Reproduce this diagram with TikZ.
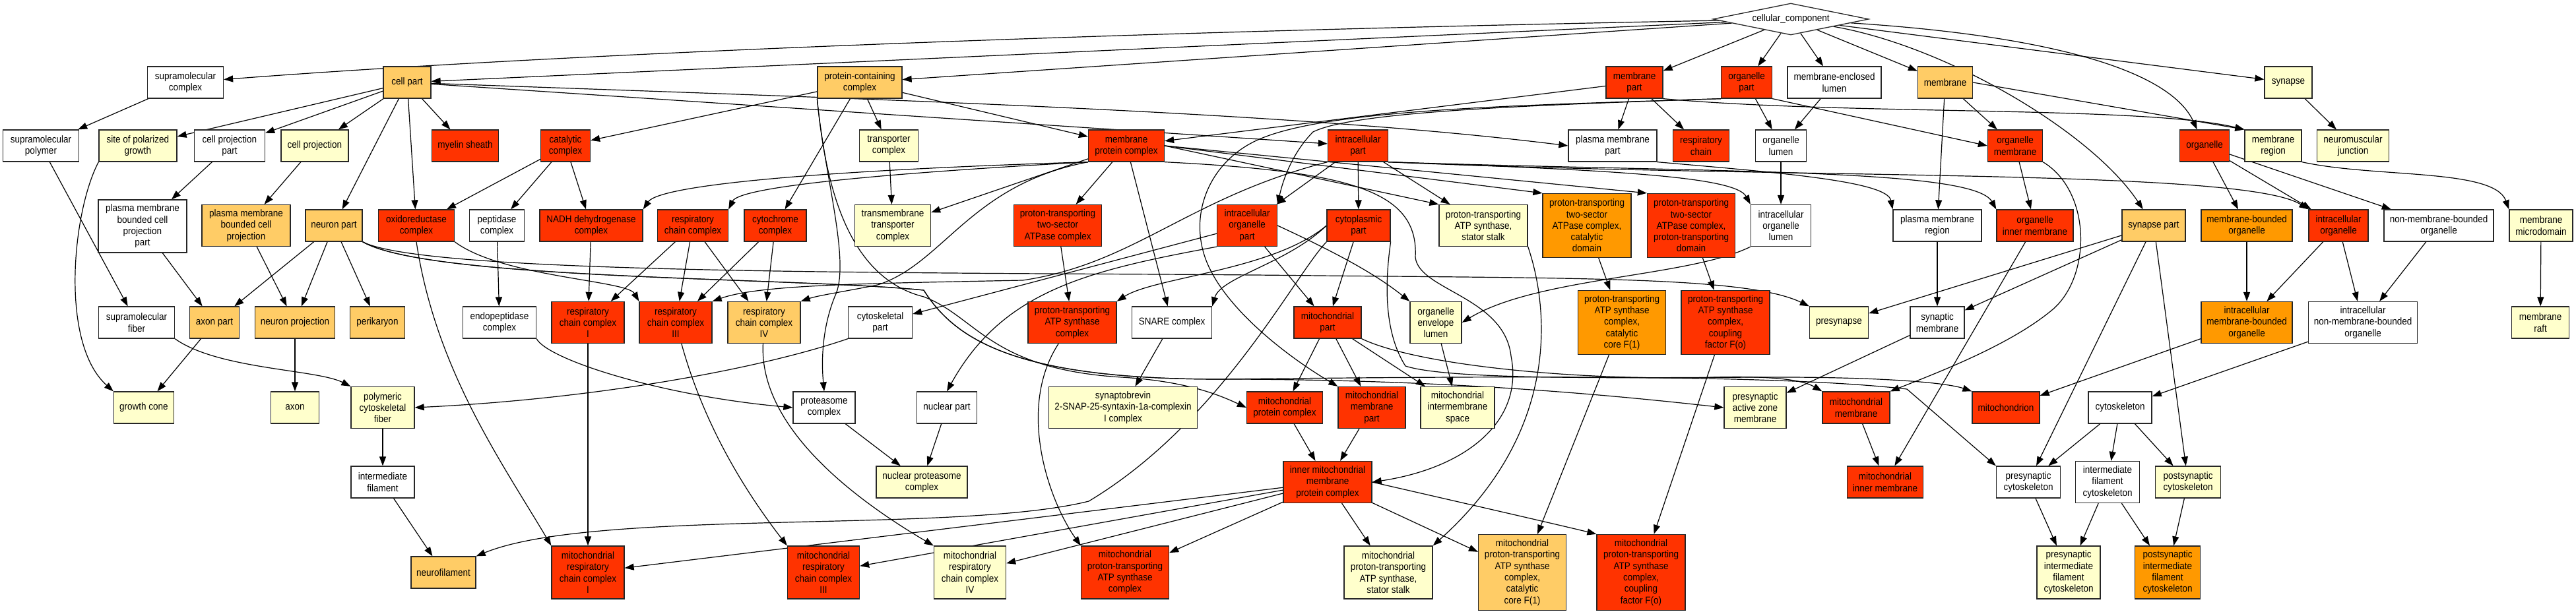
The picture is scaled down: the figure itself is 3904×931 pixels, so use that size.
\documentclass[tikz,border=0pt]{standalone}
\usepackage{fontspec}
\newfontfamily\gofont{Liberation Sans}[FakeStretch=0.9]
\usetikzlibrary{arrows.meta,shapes.geometric,backgrounds}
\definecolor{cRed}{HTML}{FF3300}
\definecolor{cOr}{HTML}{FF9900}
\definecolor{cLo}{HTML}{FFCC66}
\definecolor{cYe}{HTML}{FFFFCC}
\tikzset{
  nd/.style={draw=black!85, line width=1.3pt, rectangle, align=center, inner sep=1pt, text=black,
    font={\gofont\fontsize{15}{17.3}\selectfont}},
  ar/.style={-{Triangle[length=14pt,width=10pt]}, line width=1.2pt, draw=black}
}
\newcommand\gonode[7]{\node[nd,fill=#6,minimum width=#4pt,minimum height=#5pt] (#1) at (#2,#3) {#7};}
\begin{document}
\begin{tikzpicture}[x=1pt,y=-1pt]
\useasboundingbox (0,0) rectangle (3904,931);
% top
\node[diamond, aspect=4.9, draw=black!85, line width=1.3pt, fill=white, inner sep=0pt,
  minimum width=236pt, minimum height=48pt, font={\gofont\fontsize{15}{17.3}\selectfont}] (cc) at (2714,29) {cellular\_component};
\gonode{supcx}{281}{125}{115}{48}{white}{supramolecular\\complex}
\gonode{cellpart}{617}{125}{72}{48}{cLo}{cell part}
\gonode{protcont}{1303}{125}{128}{48}{cLo}{protein-containing\\complex}
\gonode{membpart}{2477}{125}{86}{48}{cRed}{membrane\\part}
\gonode{orgpart}{2647}{125}{77}{48}{cRed}{organelle\\part}
\gonode{melumen}{2780}{125}{142}{48}{white}{membrane-enclosed\\lumen}
\gonode{membrane}{2948}{125}{83}{48}{cLo}{membrane}
\gonode{synapse}{3468}{125}{72}{48}{cYe}{synapse}
% row B
\gonode{suppoly}{62}{221}{115}{48}{white}{supramolecular\\polymer}
\gonode{polgrowth}{209}{221}{118}{48}{cYe}{site of polarized\\growth}
\gonode{cpp}{348}{221}{107}{48}{white}{cell projection\\part}
\gonode{cp}{477}{221}{102}{48}{cYe}{cell projection}
\gonode{myelin}{705}{221}{101}{48}{cRed}{myelin sheath}
\gonode{catcx}{857}{221}{75}{48}{cRed}{catalytic\\complex}
\gonode{transpcx}{1347}{221}{89}{48}{cYe}{transporter\\complex}
\gonode{mpc}{1707}{221}{115}{48}{cRed}{membrane\\protein complex}
\gonode{icpart}{2058}{221}{91}{48}{cRed}{intracellular\\part}
\gonode{pmpart}{2444}{221}{134}{48}{white}{plasma membrane\\part}
\gonode{respchain}{2578}{221}{85}{48}{cRed}{respiratory\\chain}
\gonode{orglumen}{2699}{221}{77}{48}{white}{organelle\\lumen}
\gonode{orgmemb}{3054}{221}{83}{48}{cRed}{organelle\\membrane}
\gonode{organelle}{3341}{221}{75}{48}{cRed}{organelle}
\gonode{membregion}{3445}{221}{86}{48}{cYe}{membrane\\region}
\gonode{nmj}{3566}{221}{109}{48}{cYe}{neuromuscular\\junction}
% row C
\gonode{pmbcpp}{216}{343}{134}{80}{white}{plasma membrane\\bounded cell\\projection\\part}
\gonode{pmbcp}{373}{342}{134}{63}{cLo}{plasma membrane\\bounded cell\\projection}
\gonode{neuronpart}{506}{342}{86}{48}{cLo}{neuron part}
\gonode{oxcx}{631}{342}{115}{48}{cRed}{oxidoreductase\\complex}
\gonode{peptcx}{753}{342}{83}{48}{white}{peptidase\\complex}
\gonode{nadh}{896}{342}{156}{48}{cRed}{NADH dehydrogenase\\complex}
\gonode{rcc}{1050}{342}{107}{48}{cRed}{respiratory\\chain complex}
\gonode{cytcx}{1175}{342}{94}{48}{cRed}{cytochrome\\complex}
\gonode{tmtcx}{1353}{342}{115}{63}{cYe}{transmembrane\\transporter\\complex}
\gonode{pttsa}{1603}{342}{133}{63}{cRed}{proton-transporting\\two-sector\\ATPase complex}
\gonode{iop}{1890}{342}{91}{63}{cRed}{intracellular\\organelle\\part}
\gonode{cytopart}{2059}{342}{96}{48}{cRed}{cytoplasmic\\part}
\gonode{stalk}{2248}{342}{134}{63}{cYe}{proton-transporting\\ATP synthase,\\stator stalk}
\gonode{catdom}{2405}{342}{134}{97}{cOr}{proton-transporting\\two-sector\\ATPase complex,\\catalytic\\domain}
\gonode{ptdom}{2563}{342}{133}{97}{cRed}{proton-transporting\\two-sector\\ATPase complex,\\proton-transporting\\domain}
\gonode{iolumen}{2699}{342}{91}{63}{white}{intracellular\\organelle\\lumen}
\gonode{pmregion}{2936}{342}{134}{48}{white}{plasma membrane\\region}
\gonode{orginner}{3084}{342}{116}{48}{cRed}{organelle\\inner membrane}
\gonode{synpart}{3264}{342}{96}{48}{cLo}{synapse part}
\gonode{mbo}{3405}{342}{138}{48}{cOr}{membrane-bounded\\organelle}
\gonode{icorg}{3544}{342}{90}{48}{cRed}{intracellular\\organelle}
\gonode{nmbo}{3696}{342}{166}{48}{white}{non-membrane-bounded\\organelle}
\gonode{mmicro}{3851}{342}{96}{48}{cYe}{membrane\\microdomain}
% row D
\gonode{supfiber}{207}{489}{115}{48}{white}{supramolecular\\fiber}
\gonode{axonpart}{325}{489}{75}{48}{cLo}{axon part}
\gonode{neuronproj}{447}{489}{121}{48}{cLo}{neuron projection}
\gonode{perikaryon}{572}{489}{83}{48}{cLo}{perikaryon}
\gonode{endopept}{757}{489}{111}{48}{white}{endopeptidase\\complex}
\gonode{rcc1}{891}{489}{110}{63}{cRed}{respiratory\\chain complex\\I}
\gonode{rcc3}{1024}{489}{110}{63}{cRed}{respiratory\\chain complex\\III}
\gonode{rcc4}{1158}{489}{110}{63}{cLo}{respiratory\\chain complex\\IV}
\gonode{cytoskpart}{1334}{489}{97}{48}{white}{cytoskeletal\\part}
\gonode{ptatp}{1625}{489}{134}{63}{cRed}{proton-transporting\\ATP synthase\\complex}
\gonode{snare}{1776}{489}{121}{48}{white}{SNARE complex}
\gonode{mitopart}{2012}{489}{102}{48}{cRed}{mitochondrial\\part}
\gonode{oel}{2176}{489}{78}{63}{cYe}{organelle\\envelope\\lumen}
\gonode{f1}{2458}{489}{133}{97}{cOr}{proton-transporting\\ATP synthase\\complex,\\catalytic\\core F(1)}
\gonode{fo}{2615}{489}{134}{97}{cRed}{proton-transporting\\ATP synthase\\complex,\\coupling\\factor F(o)}
\gonode{presynapse}{2787}{489}{89}{48}{cYe}{presynapse}
\gonode{synmemb}{2936}{489}{82}{48}{white}{synaptic\\membrane}
\gonode{imbo}{3405}{489}{138}{63}{cOr}{intracellular\\membrane-bounded\\organelle}
\gonode{inmbo}{3581}{489}{165}{63}{white}{intracellular\\non-membrane-bounded\\organelle}
\gonode{raft}{3850}{489}{87}{48}{cYe}{membrane\\raft}
% row E
\gonode{growthcone}{218}{618}{91}{48}{cYe}{growth cone}
\gonode{axon}{447}{618}{73}{48}{cYe}{axon}
\gonode{pcf}{580}{618}{96}{63}{cYe}{polymeric\\cytoskeletal\\fiber}
\gonode{proteasome}{1249}{618}{94}{48}{white}{proteasome\\complex}
\gonode{nuclearpart}{1435}{618}{91}{48}{white}{nuclear part}
\gonode{snap}{1702}{618}{225}{63}{cYe}{synaptobrevin\\2-SNAP-25-syntaxin-1a-complexin\\I complex}
\gonode{mpcx}{1947}{618}{115}{48}{cRed}{mitochondrial\\protein complex}
\gonode{mmp}{2079}{618}{102}{63}{cRed}{mitochondrial\\membrane\\part}
\gonode{mis}{2209}{618}{112}{63}{cYe}{mitochondrial\\intermembrane\\space}
\gonode{pazm}{2660}{618}{94}{63}{cYe}{presynaptic\\active zone\\membrane}
\gonode{mitomemb}{2813}{618}{102}{48}{cRed}{mitochondrial\\membrane}
\gonode{mitochondrion}{3040}{618}{102}{48}{cRed}{mitochondrion}
\gonode{cytoskeleton}{3213}{618}{96}{48}{white}{cytoskeleton}
% row F
\gonode{interfil}{580}{731}{96}{48}{white}{intermediate\\filament}
\gonode{npc}{1397}{731}{138}{48}{cYe}{nuclear proteasome\\complex}
\gonode{immpc}{2012}{731}{134}{63}{cRed}{inner mitochondrial\\membrane\\protein complex}
\gonode{mim}{2857}{731}{115}{48}{cRed}{mitochondrial\\inner membrane}
\gonode{presyncsk}{3074}{731}{97}{48}{white}{presynaptic\\cytoskeleton}
\gonode{ifcsk}{3194}{731}{97}{63}{white}{intermediate\\filament\\cytoskeleton}
\gonode{postsyncsk}{3316}{731}{99}{48}{cYe}{postsynaptic\\cytoskeleton}
% row G
\gonode{neurofil}{672}{868}{98}{48}{cLo}{neurofilament}
\gonode{mrcc1}{891}{868}{110}{80}{cRed}{mitochondrial\\respiratory\\chain complex\\I}
\gonode{mrcc3}{1248}{868}{109}{80}{cRed}{mitochondrial\\respiratory\\chain complex\\III}
\gonode{mrcc4}{1470}{868}{109}{80}{cYe}{mitochondrial\\respiratory\\chain complex\\IV}
\gonode{mptatp}{1705}{868}{133}{80}{cRed}{mitochondrial\\proton-transporting\\ATP synthase\\complex}
\gonode{mstalk}{2104}{868}{134}{80}{cYe}{mitochondrial\\proton-transporting\\ATP synthase,\\stator stalk}
\gonode{mf1}{2307}{868}{133}{115}{cLo}{mitochondrial\\proton-transporting\\ATP synthase\\complex,\\catalytic\\core F(1)}
\gonode{mfo}{2487}{868}{134}{115}{cRed}{mitochondrial\\proton-transporting\\ATP synthase\\complex,\\coupling\\factor F(o)}
\gonode{psifc}{3135}{868}{96}{80}{cYe}{presynaptic\\intermediate\\filament\\cytoskeleton}
\gonode{poifc}{3285}{868}{99}{80}{cOr}{postsynaptic\\intermediate\\filament\\cytoskeleton}

\begin{pgfonlayer}{background}
\fill[white] (0,0) rectangle (3904,931);
\foreach \ea/\eb in {cc/cellpart, cc/protcont, cc/membpart, cc/orgpart, cc/melumen, cc/membrane, cc/synapse,
  supcx/suppoly,
  cellpart/polgrowth, cellpart/cpp, cellpart/cp, cellpart/neuronpart, cellpart/oxcx, cellpart/myelin, cellpart/icpart,
  protcont/catcx, protcont/transpcx, protcont/mpc, protcont/cytcx,
  catcx/oxcx, catcx/peptcx, catcx/nadh, transpcx/tmtcx,
  mpc/tmtcx, mpc/pttsa, mpc/snare,
  membpart/mpc, membpart/pmpart, membpart/respchain,
  orgpart/orglumen, melumen/orglumen,
  membrane/pmregion, membrane/orgmemb, synapse/nmj,
  organelle/mbo, organelle/icorg, organelle/nmbo,
  icpart/iop, icpart/cytopart, icpart/stalk,
  orglumen/iolumen, orgmemb/orginner,
  suppoly/supfiber, cpp/pmbcpp, cp/pmbcp, pmbcpp/axonpart, pmbcp/neuronproj,
  neuronpart/axonpart, neuronpart/neuronproj, neuronpart/perikaryon,
  peptcx/endopept, nadh/rcc1, rcc/rcc1, rcc/rcc3, rcc/rcc4, cytcx/rcc3, cytcx/rcc4,
  pttsa/ptatp, iop/cytoskpart, iop/mitopart, cytopart/mitopart,
  catdom/f1, ptdom/fo, pmregion/synmemb, orginner/mim,
  synpart/presynapse, synpart/synmemb, synpart/presyncsk, synpart/postsyncsk,
  mbo/imbo, icorg/imbo, icorg/inmbo, nmbo/inmbo, mmicro/raft,
  axonpart/growthcone, neuronproj/axon, rcc1/mrcc1, snare/snap,
  mitopart/mpcx, mitopart/mmp, mitopart/mis, oel/mis,
  f1/mf1, fo/mfo, synmemb/pazm,
  imbo/mitochondrion, inmbo/cytoskeleton,
  pcf/interfil, proteasome/npc, nuclearpart/npc, mpcx/immpc, mmp/immpc, mitomemb/mim,
  cytoskeleton/presyncsk, cytoskeleton/ifcsk, cytoskeleton/postsyncsk,
  interfil/neurofil,
  immpc/mrcc1, immpc/mrcc3, immpc/mrcc4, immpc/mptatp, immpc/mstalk, immpc/mf1,
  presyncsk/psifc, ifcsk/psifc, ifcsk/poifc, postsyncsk/poifc}
  {\draw[ar] (\ea) -- (\eb);}
\draw[ar] (mpc.east) -- (catdom.north west);
\draw[ar] (mpc.east) -- (ptdom.north west);
\draw[ar] (mpc.east) -- (stalk.north west);
\draw[ar] (membrane.east) -- (membregion.north west);
\draw[ar] (orgpart.south east) -- (orgmemb.west);
\draw[ar] (cc) .. controls (1600,50) and (800,85) .. (supcx);
\draw[ar] (cc) .. controls (2950,70) and (3170,200) .. (synpart);
\draw[ar] (cc) .. controls (3120,55) and (3290,110) .. (organelle);
\draw[ar] (cellpart) .. controls (1300,150) and (1950,168) .. (pmpart.west);
\draw[ar] (orgpart.south west) .. controls (2300,160) and (2050,170) .. (1990,200) .. controls (1960,230) and (1945,270) .. (iop.north east);
\draw[ar] (orgpart.south west) .. controls (2300,160) and (2000,165) .. (1900,215) .. controls (1830,250) and (1800,330) .. (1830,400) .. controls (1860,470) and (1950,540) .. (mmp.north west);
\draw[ar] (membpart.south east) .. controls (2800,175) and (3250,160) .. (membregion.north west);
\draw[ar] (membregion.south east) .. controls (3600,270) and (3780,255) .. (mmicro.north west);
\draw[ar] (icpart.south east) .. controls (2700,272) and (3400,255) .. (icorg.north west);
\draw[ar] (icpart.south east) .. controls (2600,262) and (2990,255) .. (orginner.north west);
\draw[ar] (icpart.south east) .. controls (2450,258) and (2630,268) .. (iolumen.north west);
\draw[ar] (pmpart.south east) .. controls (2700,262) and (2860,275) .. (pmregion.north west);
\draw[ar] (neuronpart.south east) .. controls (650,420) and (1500,412) .. (2000,418) .. controls (2400,422) and (2650,420) .. (presynapse.north west);
\draw[ar] (neuronpart.south east) .. controls (650,425) and (1200,420) .. (1400,440) .. controls (1450,520) and (1550,575) .. (1850,575) .. controls (2200,575) and (2450,600) .. (pazm.west);
\draw[ar] (neuronpart.south east) .. controls (650,425) and (1200,420) .. (1400,440) .. controls (1450,520) and (1550,575) .. (1850,575) .. controls (2300,570) and (2700,568) .. (2890,590) -- (presyncsk.north west);
\draw[ar] (cytopart.south east) .. controls (2100,420) and (2095,500) .. (2130,555) .. controls (2200,578) and (2500,572) .. (2700,572) .. controls (2850,572) and (2950,580) .. (mitochondrion.north west);
\draw[ar] (mitopart.south east) .. controls (2150,555) and (2400,578) .. (2600,572) .. controls (2680,570) and (2730,575) .. (mitomemb.north west);
\draw[ar] (cytopart.south west) .. controls (1960,420) and (1850,640) .. (1650,760) .. controls (1450,810) and (900,770) .. (neurofil.north east);
\draw[ar] (cytopart.west) .. controls (1950,400) and (1850,420) .. (snare.north east);
\draw[ar] (cytopart.west) .. controls (1930,410) and (1750,420) .. (ptatp.north east);
\draw[ar] (mpc.south west) .. controls (1250,258) and (1000,280) .. (nadh.north east);
\draw[ar] (mpc.south west) .. controls (1300,265) and (1120,285) .. (rcc.north east);
\draw[ar] (mpc.south west) .. controls (1470,280) and (1430,400) .. (1330,432) .. controls (1280,442) and (1240,448) .. (rcc4.north east);
\draw[ar] (icpart.south west) .. controls (1800,300) and (1720,400) .. (1550,425) .. controls (1300,430) and (1150,432) .. (rcc3.north east);
\draw[ar] (protcont.south west) .. controls (1250,270) and (1290,400) .. (1265,450) .. controls (1245,500) and (1245,550) .. (proteasome.north);
\draw[ar] (protcont.south west) .. controls (1250,270) and (1280,420) .. (1400,450) .. controls (1480,480) and (1500,560) .. (1700,572) .. controls (1800,578) and (1850,600) .. (mpcx.west);
\draw[ar] (oxcx.south east) .. controls (760,420) and (950,425) .. (rcc3.north west);
\draw[ar] (oxcx.south) .. controls (660,560) and (760,700) .. (mrcc1.north west);
\draw[ar] (endopept.south east) .. controls (830,545) and (1000,600) .. (proteasome.west);
\draw[ar] (cytoskpart.south west) .. controls (1150,560) and (900,605) .. (pcf.east);
\draw[ar] (supfiber.south east) .. controls (330,560) and (480,560) .. (pcf.north west);
\draw[ar] (polgrowth.south west) .. controls (110,320) and (90,520) .. (growthcone.north west);
\draw[ar] (rcc3) .. controls (1060,620) and (1110,720) .. (mrcc3.north west);
\draw[ar] (rcc4) .. controls (1150,650) and (1300,760) .. (mrcc4.north west);
\draw[ar] (ptatp) .. controls (1540,620) and (1590,760) .. (mptatp.north west);
\draw[ar] (stalk.south east) .. controls (2345,460) and (2370,650) .. (mstalk.north east);
\draw[ar] (mpc.south east) .. controls (2050,260) and (2150,290) .. (2145,390) .. controls (2150,440) and (2280,450) .. (2290,540) .. controls (2310,640) and (2220,710) .. (immpc.east);
\draw[ar] (iop.south west) .. controls (1650,410) and (1520,440) .. (nuclearpart.north);
\draw[ar] (iop.east) .. controls (2040,390) and (2090,420) .. (oel.north west);
\draw[ar] (iolumen.south west) .. controls (2560,420) and (2330,420) .. (oel.east);
\draw[ar] (orgmemb.south east) .. controls (3170,290) and (3170,420) .. (3110,470) .. controls (3050,520) and (2950,560) .. (mitomemb.north east);
\draw[ar] (immpc.east) .. controls (2250,770) and (2380,800) .. (mfo.north west);
\end{pgfonlayer}
\end{tikzpicture}
\end{document}
